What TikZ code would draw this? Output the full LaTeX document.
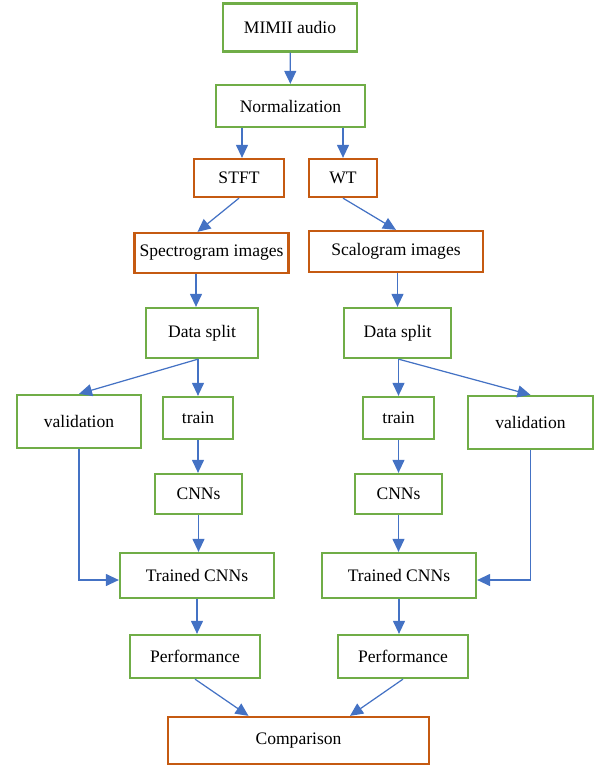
\documentclass[tikz,border=0pt]{standalone}
\usepackage{fontspec}
\setmainfont{Liberation Serif}
\usetikzlibrary{arrows.meta}
\definecolor{boxgreen}{RGB}{112,173,71}
\definecolor{boxred}{RGB}{197,90,17}
\definecolor{flowblue}{RGB}{68,114,196}
\tikzset{
	stage/.style={draw=boxgreen, rectangle, line width=1.3pt, inner sep=0pt, fill=white, font=\fontsize{10}{12}\selectfont},
	trans/.style={draw=boxred, rectangle, line width=1.3pt, inner sep=0pt, fill=white, font=\fontsize{10}{12}\selectfont},
}

\begin{document}
\begin{tikzpicture}[x=0.02cm, y=-0.02cm]
	\useasboundingbox (0,0) rectangle (602,768);
	
	\node (audio) [stage, minimum width=2.68cm, minimum height=0.96cm] at (290,27.5) {MIMII audio};
	\node (norm) [stage, minimum width=2.98cm, minimum height=0.84cm] at (290.5,106) {Normalization};
	
	\node (stft) [trans, minimum width=1.80cm, minimum height=0.76cm] at (239,178) {STFT};
	\node (wt) [trans, minimum width=1.36cm, minimum height=0.76cm] at (343,178) {WT};
	\node (spec) [trans, minimum width=3.08cm, minimum height=0.80cm] at (211.5,253) {Spectrogram images};
	\node (scal) [trans, minimum width=3.48cm, minimum height=0.82cm] at (396,251.5) {Scalogram images};
	
	% left branch
	\node (split1) [stage, minimum width=2.24cm, minimum height=1.00cm] at (202,333) {Data split};
	\node (val1) [stage, minimum width=2.48cm, minimum height=1.06cm] at (79,421.5) {validation};
	\node (train1) [stage, minimum width=1.40cm, minimum height=0.84cm] at (198,418) {train};
	\node (cnn1) [stage, minimum width=1.74cm, minimum height=0.80cm] at (198.5,494) {CNNs};
	\node (tcnn1) [stage, minimum width=3.08cm, minimum height=0.90cm] at (197,575.5) {Trained CNNs};
	\node (perf1) [stage, minimum width=2.60cm, minimum height=0.86cm] at (195,656.5) {Performance};
	
	% right branch
	\node (split2) [stage, minimum width=2.14cm, minimum height=1.00cm] at (397.5,333) {Data split};
	\node (train2) [stage, minimum width=1.42cm, minimum height=0.84cm] at (398.5,418) {train};
	\node (val2) [stage, minimum width=2.50cm, minimum height=1.06cm] at (530.5,422.5) {validation};
	\node (cnn2) [stage, minimum width=1.74cm, minimum height=0.80cm] at (398.5,494) {CNNs};
	\node (tcnn2) [stage, minimum width=3.08cm, minimum height=0.90cm] at (399,575.5) {Trained CNNs};
	\node (perf2) [stage, minimum width=2.60cm, minimum height=0.86cm] at (403,656.5) {Performance};
	
	\node (comp) [trans, minimum width=5.22cm, minimum height=0.94cm] at (298.5,740.5) {Comparison};
	
	\begin{scope}[line width=0.7pt, flowblue, -{Triangle[length=0.26cm, width=0.24cm]}]
		\draw (audio) -- (norm);
		\draw ([xshift=0.06cm]stft.north |- norm.south) -- ([xshift=0.06cm]stft.north);
		\draw (wt.north |- norm.south) -- (wt.north);
		\draw (stft.south) -- ([xshift=-0.28cm]spec.north);
		\draw (wt.south) -- (scal.north);
		
		\draw ([xshift=-0.12cm]split1.north |- spec.south) -- ([xshift=-0.12cm]split1.north);
		\draw (train1.north |- split1.south) -- (train1.north);
		\draw (train1.north |- split1.south) -- (val1.north);
		\draw (train1.south) -- (train1.south |- cnn1.north);
		\draw (cnn1.south) -- (cnn1.south |- tcnn1.north);
		\draw (val1.south) |- ([yshift=-0.09cm]tcnn1.west);
		\draw (tcnn1.south) -- (tcnn1.south |- perf1.north);
		\draw (perf1.south) -- ([xshift=-1.0cm]comp.north);
		
		\draw (split2.north |- scal.south) -- (split2.north);
		\draw (train2.north |- split2.south) -- (train2.north);
		\draw (train2.north |- split2.south) -- (val2.north);
		\draw (train2.south) -- (train2.south |- cnn2.north);
		\draw (cnn2.south) -- (cnn2.south |- tcnn2.north);
		\draw (val2.south) |- ([yshift=-0.09cm]tcnn2.east);
		\draw (tcnn2.south) -- (tcnn2.south |- perf2.north);
		\draw (perf2.south) -- ([xshift=1.03cm]comp.north);
	\end{scope}
	
\end{tikzpicture}
\end{document}
